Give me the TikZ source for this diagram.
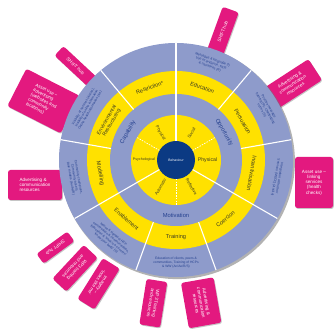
\documentclass[tikz,border=0pt]{standalone}
\usepackage{fontspec}
\setmainfont{Liberation Sans}
\usetikzlibrary{shadows}
\definecolor{lav}{HTML}{8E9BCB}
\definecolor{yel}{HTML}{FFE100}
\definecolor{navy}{HTML}{0B3A83}
\definecolor{pinkc}{HTML}{E3197F}
\definecolor{dblue}{HTML}{24408E}
\definecolor{dtext}{HTML}{3A3A22}
\tikzset{
  pinkbox/.style={fill=pinkc, rounded corners=2.5pt, text=white, font=\fontsize{4.6}{5.3}\selectfont, align=center, inner sep=1pt, drop shadow={shadow xshift=0.8pt, shadow yshift=-1pt, opacity=0.45}},
  sep/.style={white, line width=1.1pt},
  seplight/.style={white, line width=0.7pt, dash pattern=on 1.5pt off 1.2pt},
  ifun/.style={text=dtext, font=\fontsize{5.6}{6.2}\selectfont, align=center, inner sep=0pt},
  comlab/.style={text=dblue, font=\fontsize{5.8}{6.4}\selectfont, inner sep=0pt},
  srclab/.style={text=dtext, font=\fontsize{4.2}{5}\selectfont, inner sep=0pt},
  outtxt/.style={text=dblue, font=\fontsize{3.3}{3.9}\selectfont, align=center, inner sep=0pt},
}
\begin{document}
\begin{tikzpicture}[x=1pt,y=1pt]
\useasboundingbox (0,0) rectangle (335,329);
\fill[white] (0,0) rectangle (335,329);
% free-standing callouts
\node[pinkbox, minimum width=38pt, minimum height=51pt] (cC) at (314,146.5) {Asset use --\\linking\\services\\(health\\checks)};
\node[pinkbox, minimum width=54pt, minimum height=30pt, align=left] (cD) at (35,144) {Advertising \&\\communication\\resources};
\begin{scope}[shift={(176,169)}]
  % radial callouts
  \node[pinkbox, minimum width=47pt, minimum height=17pt, rotate=70] (cA) at (70:136.5) {SHIFT hub};
  \node[pinkbox, minimum width=54pt, minimum height=25pt, rotate=33] (cB) at (33:139) {Advertising \&\\communication\\resources};
  \node[pinkbox, minimum width=45pt, minimum height=13pt, rotate=-43] (cE) at (137:137.5) {SHIFT hub};
  \node[pinkbox, minimum width=60pt, minimum height=42pt, rotate=-27, align=left] (cF) at (156:145) {Asset use --\\advertising\\(websites and\\community\\locations)};
  \node[pinkbox, minimum width=38pt, minimum height=12pt, rotate=216] (cG) at (216:149) {SHIFT hub};
  \node[pinkbox, minimum width=46pt, minimum height=19pt, rotate=227] (cH) at (227:148) {WP3 training\\and resources};
  \node[pinkbox, minimum width=48pt, minimum height=20pt, rotate=238] (cI) at (238:146) {Imagery --\\`looks like me'};
  \node[pinkbox, minimum width=46pt, minimum height=21pt, rotate=261] (cJ) at (261:145) {WP3 Training\\and resources};
  \node[pinkbox, minimum width=46pt, minimum height=33pt, rotate=280] (cK) at (280:145) {Advertising \&\\communication\\resources};
  % wheel
  \fill[black!55, opacity=0.55] (1.3,-1.5) circle (117.6);
  \fill[lav] (0,0) circle (117);
  \fill[yel] (0,0) circle (89);
  \fill[lav] (0,0) circle (66);
  \fill[yel] (0,0) circle (45);
  \foreach \a in {10,50,130,170,250,290} \draw[sep] (\a:66) -- (\a:117);
  \foreach \a in {90,210,330} \draw[sep] (\a:19) -- (\a:117);
  \foreach \a in {30,150,270} \draw[seplight] (\a:19) -- (\a:45);
  \node[circle, fill=navy, minimum size=38pt, inner sep=0pt, text=white, font=\fontsize{3.4}{4}\selectfont] (beh) at (0,0) {Behaviour};
  % sources of behaviour
  \node[srclab, rotate=-60] (sPc) at (120:31) {Physical};
  \node[srclab, rotate=60] (sSo) at (60:31) {Social};
  \node[srclab, font=\fontsize{3.6}{4}\selectfont] (sPs) at (180:32) {Psychological};
  \node[srclab, font=\fontsize{5.2}{6}\selectfont] (sPo) at (0:31.5) {Physical};
  \node[srclab, rotate=60] (sAu) at (240:31) {Automatic};
  \node[srclab, rotate=-60] (sRe) at (300:31) {Reflective};
  % COM
  \node[comlab, rotate=60] (mCap) at (150:55.5) {Capability};
  \node[comlab, rotate=-60] (mOpp) at (30:55.5) {Opportunity};
  \node[comlab] (mMot) at (270:55.5) {Motivation};
  % intervention functions
  \node[ifun, rotate=20] (iRes) at (110:77) {Restriction*};
  \node[ifun, rotate=-20] (iEdu) at (70:77) {Education};
  \node[ifun, rotate=-60] (iPer) at (30:77) {Persuasion};
  \node[ifun, rotate=-100] (iInc) at (350:77) {Incentivisation};
  \node[ifun, rotate=40] (iCoe) at (310:77) {Coercion};
  \node[ifun] (iTra) at (270:77) {Training};
  \node[ifun, rotate=-40] (iEna) at (230:77) {Enablement};
  \node[ifun, rotate=-80] (iMod) at (190:77) {Modelling};
  \node[ifun, rotate=60, font=\fontsize{5.2}{5.6}\selectfont] (iEnv) at (150:77) {Environmental\\Restructuring};
  % outer ring texts
  \node[outtxt, rotate=-20] (oEdu) at (70:103) {Messages \& language (I)\\Use of evidence, facts\\\& narratives (R)};
  \node[outtxt, rotate=-60] (oPer) at (30:103) {Positive message\\framing (R), Challenging\\norms (S)};
  \node[outtxt, rotate=-100] (oInc) at (350:103) {Integration with other\\Services (MECC) (Au/Ae)};
  \node[outtxt] (oTra) at (270:103) {Education of clients, peers \&\\communities, Training of HCPs\\\& WW (Ac/Ae/R/S)};
  \node[outtxt, rotate=-40] (oEna) at (230:103) {Notice \& signpost HCP\\conversation \& communication,\\Education \& `what is a concern'\\`know your body' (S)};
  \node[outtxt, rotate=-80] (oMod) at (190:103) {Community champions,\\Community assets,\\Role models (Au/Ae/R)};
  \node[outtxt, rotate=60] (oEnv) at (150:103) {Visibility of services (Action),\\Visibility of online information\\Online health information (Ae)};
\end{scope}
\end{tikzpicture}
\end{document}
